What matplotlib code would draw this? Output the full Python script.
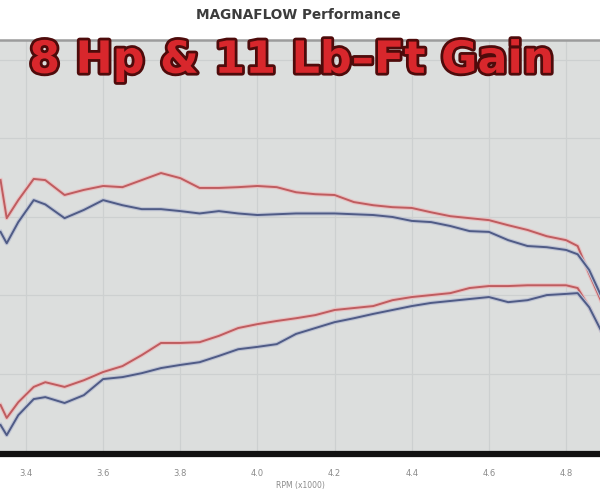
import numpy as np
import matplotlib
matplotlib.use("Agg")
import matplotlib.pyplot as plt
import matplotlib.patheffects as pe

# RPM (x1000) sample points shared by all four curves
rpm = [3.334, 3.35, 3.38, 3.42, 3.45, 3.50, 3.55, 3.60, 3.65, 3.70, 3.75,
       3.80, 3.85, 3.90, 3.95, 4.00, 4.05, 4.10, 4.15, 4.20, 4.25, 4.30,
       4.35, 4.40, 4.45, 4.50, 4.55, 4.60, 4.65, 4.70, 4.75, 4.80, 4.83,
       4.86, 4.89]

# Torque, with Magnaflow (red) and stock (blue)
torque_after = [129.3, 119.6, 124.2, 129.6, 129.3, 125.5, 126.8, 127.8, 127.5,
                129.3, 131.1, 129.8, 127.3, 127.3, 127.5, 127.8, 127.5, 126.2,
                125.7, 125.5, 123.7, 122.9, 122.4, 122.2, 121.1, 120.1, 119.6,
                119.1, 117.8, 116.6, 115.0, 114.0, 112.5, 105.4, 98.7]
torque_before = [116.1, 113.2, 118.6, 124.2, 123.1, 119.6, 121.7, 124.2, 122.9,
                 121.9, 121.9, 121.4, 120.8, 121.4, 120.8, 120.4, 120.6, 120.8,
                 120.8, 120.8, 120.6, 120.4, 119.9, 118.9, 118.6, 117.6, 116.3,
                 116.1, 114.0, 112.5, 112.2, 111.5, 110.4, 106.4, 100.0]

# Horsepower, with Magnaflow (red) and stock (blue)
hp_after = [72.0, 68.7, 72.7, 76.6, 77.8, 76.6, 78.3, 80.4, 81.9, 84.7, 87.8,
            87.8, 88.0, 89.6, 91.6, 92.6, 93.4, 94.1, 94.9, 96.2, 96.7, 97.2,
            98.7, 99.5, 100.0, 100.5, 101.8, 102.3, 102.3, 102.5, 102.5, 102.5,
            101.8, 96.9, 91.1]
hp_before = [66.9, 64.3, 69.4, 73.5, 74.0, 72.5, 74.5, 78.6, 79.1, 80.1, 81.4,
             82.2, 82.9, 84.5, 86.2, 86.8, 87.5, 90.1, 91.6, 93.1, 94.1, 95.2,
             96.2, 97.2, 98.0, 98.5, 99.0, 99.5, 98.2, 98.7, 100.0, 100.3, 100.5,
             96.9, 91.1]

xticks = [3.4, 3.6, 3.8, 4.0, 4.2, 4.4, 4.6, 4.8]
xtick_labels = ["3.4", "3.6", "3.8", "4.0", "4.2", "4.4", "4.6", "4.8"]
yticks = [80, 100, 120, 140, 160]

red = "#bf5c5f"
blue = "#4f5b86"

fig = plt.figure(figsize=(6, 4.92), dpi=100)
ax = fig.add_axes([0, 0.0772, 1, 0.8415])
ax.set_facecolor("#dcdedd")

# soft halo under each line, like the blurred original
halo_red = [pe.Stroke(linewidth=3.0, foreground="#e8c0c1"), pe.Normal()]
halo_blue = [pe.Stroke(linewidth=3.0, foreground="#bec3d3"), pe.Normal()]

ax.plot(rpm, torque_after, color=red, lw=1.4, path_effects=halo_red, zorder=3)
ax.plot(rpm, torque_before, color=blue, lw=1.4, path_effects=halo_blue, zorder=3)
ax.plot(rpm, hp_after, color=red, lw=1.4, path_effects=halo_red, zorder=3)
ax.plot(rpm, hp_before, color=blue, lw=1.4, path_effects=halo_blue, zorder=3)

ax.set_xlim(3.3326, 4.888)
ax.set_ylim(59.5, 165)

ax.set_xticks(xticks)
ax.set_xticklabels(xtick_labels)
ax.set_yticks(yticks)
ax.tick_params(axis="x", length=0, pad=11, labelsize=6, labelcolor="#8a8a8a")
ax.tick_params(axis="y", length=0, labelleft=False)
ax.grid(True, color="#cdd0d0", lw=0.9)
ax.set_axisbelow(True)

for side in ["left", "right"]:
    ax.spines[side].set_visible(False)
ax.spines["top"].set_color("#9c9c9c")
ax.spines["top"].set_linewidth(1.8)
ax.spines["bottom"].set_color("#111111")
ax.spines["bottom"].set_linewidth(4.5)

ax.set_xlabel("RPM (x1000)", fontsize=5.5, color="#8a8a8a", labelpad=2)

fig.text(0.497, 0.969, "MAGNAFLOW Performance", ha="center", va="center",
         fontsize=9.8, fontweight="bold", color="#3c3c3c")

big = fig.text(0.487, 0.852, "8 Hp & 11 Lb\u2013Ft Gain", ha="center", va="baseline",
               fontsize=32, fontweight="bold", color="#d8272c")
big.set_path_effects([pe.Stroke(linewidth=4, foreground="#4e0b0b"), pe.Normal()])

plt.savefig("out.png", dpi=100)
